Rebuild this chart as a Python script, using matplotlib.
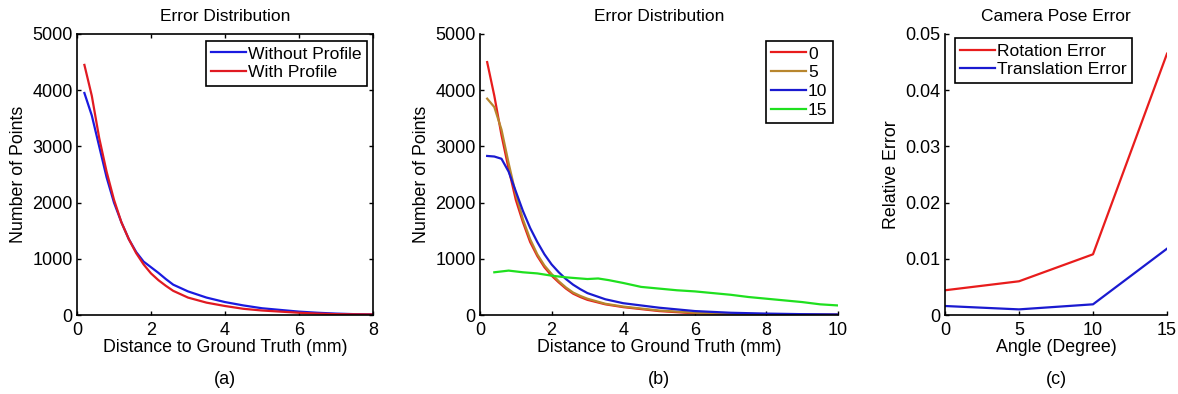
import numpy as np
import matplotlib.pyplot as plt

plt.rcParams['font.family'] = ['Liberation Sans', 'DejaVu Sans']
plt.rcParams['xtick.direction'] = 'in'
plt.rcParams['ytick.direction'] = 'in'

# ---------- (a) Error distribution, with / without profile ----------
a_x_blue = [0.2, 0.4, 0.6, 0.8, 1.0, 1.2, 1.4, 1.6, 1.8, 2.0, 2.2, 2.4, 2.6, 2.8, 3.0,
            3.5, 4.0, 4.5, 5.0, 5.5, 6.0, 6.5, 7.0, 7.5, 8.0]
a_without = [3950, 3550, 3000, 2450, 2000, 1650, 1350, 1120, 950, 850, 750, 640, 540, 480, 420,
             310, 230, 170, 120, 90, 60, 40, 25, 15, 10]
a_x_red = [0.2, 0.4, 0.6, 0.8, 1.0, 1.2, 1.4, 1.6, 1.8, 2.0, 2.2, 2.4, 2.6, 2.8, 3.0,
           3.5, 4.0, 4.5, 5.0, 5.5, 6.0, 6.5, 7.0, 7.5, 8.0]
a_with = [4450, 3900, 3150, 2550, 2050, 1650, 1350, 1100, 900, 740, 620, 520, 430, 370, 310,
          220, 160, 110, 80, 60, 40, 25, 15, 12, 10]

# ---------- (b) Error distribution per angle ----------
b_x = [0.2, 0.4, 0.6, 0.8, 1.0, 1.2, 1.4, 1.6, 1.8, 2.0, 2.2, 2.4, 2.6, 2.8, 3.0,
       3.5, 4.0, 5.0, 6.0, 7.0, 8.0, 9.0, 10.0]
b_0 = [4500, 3900, 3200, 2600, 2050, 1650, 1300, 1050, 850, 700, 580, 470, 380, 320, 270,
       190, 140, 70, 30, 15, 8, 5, 5]
b_5 = [3850, 3700, 3300, 2700, 2150, 1700, 1350, 1080, 880, 730, 600, 490, 400, 340, 290,
       200, 150, 80, 40, 20, 10, 6, 5]
b_10 = [2830, 2820, 2780, 2550, 2200, 1850, 1550, 1300, 1080, 900, 760, 640, 540, 460, 390,
        280, 210, 130, 70, 40, 25, 15, 10]
b_x15 = [0.4, 0.8, 1.2, 1.6, 2.0, 2.4, 2.8, 3.0, 3.3, 3.6, 4.0, 4.5, 5.0, 5.5, 6.0, 6.5,
         7.0, 7.5, 8.0, 8.5, 9.0, 9.5, 10.0]
b_15 = [760, 790, 760, 740, 700, 670, 650, 640, 650, 620, 570, 500, 470, 440, 420, 390,
        360, 320, 290, 260, 230, 190, 170]
b_labels = ['0', '5', '10', '15']

# ---------- (c) Camera pose error ----------
c_angle = [0, 5, 10, 15]
c_rot = [0.0044, 0.0060, 0.0108, 0.0465]
c_trans = [0.0016, 0.0010, 0.0019, 0.0118]

fig = plt.figure(figsize=(11.78, 3.94), dpi=100)
W, H = 1178.0, 394.0

def add_ax(l, r, t, b):
    return fig.add_axes([l / W, 1 - b / H, (r - l) / W, (b - t) / H])

tick_fs = 13
lab_fs = 12.8
title_fs = 12.5
leg_fs = 12.6
sub_fs = 13

def style(ax, box):
    for s in ax.spines.values():
        s.set_linewidth(1.2)
    if not box:
        ax.spines['top'].set_visible(False)
        ax.spines['right'].set_visible(False)
    else:
        ax.tick_params(top=True, right=True)
    ax.tick_params(axis='x', labelsize=tick_fs, length=3, width=1, pad=5)
    ax.tick_params(axis='y', labelsize=tick_fs, length=3, width=1, pad=3)

def legend(ax, **kw):
    leg = ax.legend(fontsize=leg_fs, fancybox=False, framealpha=1,
                    edgecolor='black', handlelength=2.0, handletextpad=0.1,
                    borderpad=0.3, labelspacing=0.2, **kw)
    leg.get_frame().set_linewidth(1.2)
    return leg

# panel a
ax1 = add_ax(77, 373, 34, 315)
ax1.plot(a_x_blue, a_without, color='#1a1ae0', lw=1.6, label='Without Profile')
ax1.plot(a_x_red, a_with, color='#e01a22', lw=1.6, label='With Profile')
ax1.set_xlim(0, 8)
ax1.set_ylim(0, 5000)
ax1.set_xticks([0, 2, 4, 6, 8])
ax1.set_yticks([0, 1000, 2000, 3000, 4000, 5000])
ax1.set_xlabel('Distance to Ground Truth (mm)', fontsize=lab_fs, labelpad=0)
ax1.set_ylabel('Number of Points', fontsize=lab_fs, labelpad=4)
ax1.set_title('Error Distribution', fontsize=title_fs, pad=9.5)
style(ax1, True)
legend(ax1, loc='upper right', bbox_to_anchor=(0.98, 0.975), borderaxespad=0)
fig.text((77 + 373) / 2 / W, 1 - 380 / H, '(a)', ha='center', va='center', fontsize=sub_fs)

# panel b
ax2 = add_ax(480, 838, 34, 315)
ax2.plot(b_x, b_0, color='#e81c1c', lw=1.6, label=b_labels[0])
ax2.plot(b_x, b_5, color='#b8862e', lw=1.6, label=b_labels[1])
ax2.plot(b_x, b_10, color='#1a1ad0', lw=1.6, label=b_labels[2])
ax2.plot(b_x15, b_15, color='#1fe01f', lw=1.6, label=b_labels[3])
ax2.set_xlim(0, 10)
ax2.set_ylim(0, 5000)
ax2.set_xticks([0, 2, 4, 6, 8, 10])
ax2.set_yticks([0, 1000, 2000, 3000, 4000, 5000])
ax2.set_xlabel('Distance to Ground Truth (mm)', fontsize=lab_fs, labelpad=0)
ax2.set_ylabel('Number of Points', fontsize=lab_fs, labelpad=4)
ax2.set_title('Error Distribution', fontsize=title_fs, pad=9.5)
style(ax2, False)
legend(ax2, loc='upper right', bbox_to_anchor=(0.985, 0.975), borderaxespad=0)
fig.text((480 + 838) / 2 / W, 1 - 380 / H, '(b)', ha='center', va='center', fontsize=sub_fs)

# panel c
ax3 = add_ax(945, 1167, 34, 315)
ax3.plot(c_angle, c_rot, color='#e81c1c', lw=1.6, label='Rotation Error')
ax3.plot(c_angle, c_trans, color='#1a1ad0', lw=1.6, label='Translation Error')
ax3.set_xlim(0, 15)
ax3.set_ylim(0, 0.05)
ax3.set_xticks([0, 5, 10, 15])
ax3.set_yticks([0, 0.01, 0.02, 0.03, 0.04, 0.05])
ax3.set_yticklabels(['0', '0.01', '0.02', '0.03', '0.04', '0.05'])
ax3.set_xlabel('Angle (Degree)', fontsize=lab_fs, labelpad=0)
ax3.set_ylabel('Relative Error', fontsize=lab_fs, labelpad=4)
ax3.set_title('Camera Pose Error', fontsize=title_fs, pad=9.5)
style(ax3, False)
legend(ax3, loc='upper left', bbox_to_anchor=(0.045, 0.985), borderaxespad=0)
fig.text((945 + 1167) / 2 / W, 1 - 380 / H, '(c)', ha='center', va='center', fontsize=sub_fs)

plt.savefig('out.png', dpi=100)
